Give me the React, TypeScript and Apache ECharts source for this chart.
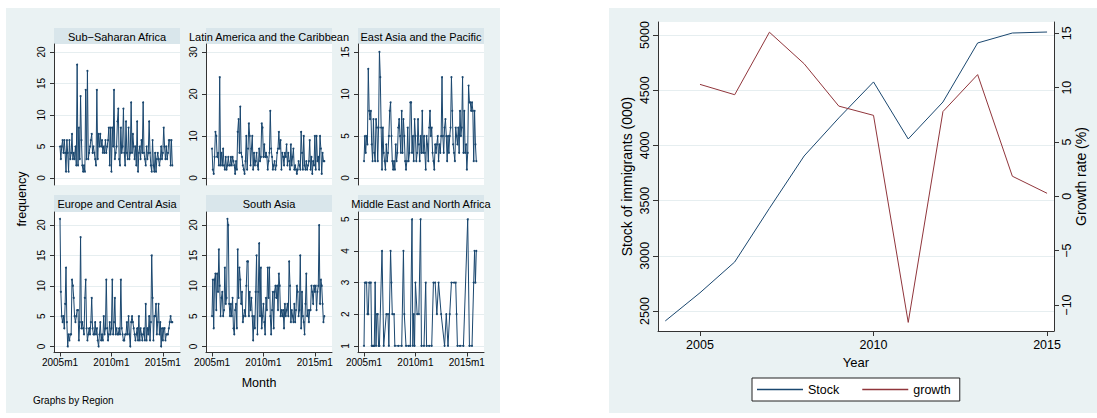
import React, { useEffect, useRef } from "react";
import * as echarts from "echarts";

// ---------- Left figure: monthly frequency by region (month index 0 = 2005m1) ----------
const regionNames = [
  "Sub\u2212Saharan Africa",
  "Latin America and the Caribbean",
  "East Asia and the Pacific",
  "Europe and Central Asia",
  "South Asia",
  "Middle East and North Africa",
];

const ssa = [
  5, 3, 5, 6, 4, 6, 4, 1, 6, 4,
  1, 6, 3, 4, 7, 3, 4, 3, 5, 2,
  18, 2, 8, 3, 13, 6, 2, 1, 2, 1,
  14, 3, 17, 3, 4, 5, 6, 7, 4, 5,
  4, 3, 2, 14, 3, 7, 5, 7, 5, 6,
  4, 5, 4, 6, 4, 5, 6, 8, 2, 8,
  1, 8, 5, 14, 3, 4, 5, 9, 11, 3,
  2, 8, 4, 5, 11, 4, 2, 9, 4, 3,
  8, 3, 4, 12, 4, 7, 5, 3, 5, 2,
  9, 1, 4, 5, 3, 6, 4, 12, 4, 3,
  2, 5, 3, 4, 9, 4, 2, 1, 6, 2,
  1, 4, 1, 3, 4, 3, 2, 3, 5, 3,
  4, 8, 5, 3, 5, 3, 4, 6, 6, 2, 6, 2,
];

const lac = [
  7, 2, 1, 5, 11, 10, 5, 6, 3, 24,
  3, 6, 3, 7, 3, 2, 5, 2, 3, 5,
  3, 3, 5, 3, 5, 4, 3, 1, 4, 2,
  11, 14, 6, 17, 6, 5, 3, 2, 1, 4,
  10, 2, 7, 13, 10, 3, 7, 10, 2, 6,
  3, 4, 6, 3, 2, 7, 4, 5, 13, 12,
  5, 8, 5, 6, 5, 2, 4, 6, 16, 7,
  5, 2, 3, 4, 2, 3, 6, 7, 11, 7,
  9, 2, 6, 5, 3, 6, 5, 8, 3, 6,
  4, 2, 8, 3, 5, 7, 2, 3, 2, 1,
  2, 4, 3, 2, 11, 6, 2, 10, 3, 2,
  4, 2, 3, 4, 9, 2, 5, 1, 4, 3,
  10, 2, 10, 4, 5, 2, 10, 7, 1, 6, 4, 4,
];

const eap = [
  2, 5, 3, 5, 4, 13, 8, 7, 8, 4,
  2, 7, 3, 2, 7, 6, 2, 6, 15, 12,
  6, 1, 6, 3, 2, 1, 4, 2, 3, 5,
  8, 9, 5, 2, 1, 2, 1, 4, 2, 3,
  6, 7, 5, 3, 8, 3, 7, 5, 2, 1,
  2, 6, 2, 3, 9, 9, 3, 5, 2, 7,
  5, 2, 3, 7, 4, 2, 5, 3, 8, 3,
  5, 3, 1, 5, 4, 2, 6, 8, 5, 6,
  3, 2, 1, 4, 3, 4, 5, 2, 4, 3,
  5, 12, 5, 3, 6, 7, 5, 2, 5, 3,
  5, 6, 12, 8, 4, 3, 2, 6, 5, 4,
  6, 3, 8, 5, 6, 12, 3, 8, 3, 4,
  1, 3, 11, 9, 9, 8, 9, 8, 2, 8, 4, 2,
];

const eca = [
  21, 9, 5, 4, 5, 3, 7, 13, 4, 0,
  2, 1, 2, 2, 11, 10, 8, 5, 4, 5,
  6, 6, 1, 4, 18, 3, 4, 3, 2, 8,
  11, 3, 1, 2, 3, 2, 4, 8, 3, 2,
  2, 4, 2, 3, 1, 0, 2, 4, 1, 2,
  1, 5, 2, 3, 11, 3, 1, 2, 4, 2,
  3, 11, 2, 4, 8, 2, 3, 2, 2, 3,
  2, 11, 3, 2, 1, 1, 2, 2, 4, 2,
  5, 2, 0, 4, 5, 4, 3, 2, 1, 2,
  3, 1, 5, 1, 3, 2, 1, 2, 3, 1,
  7, 1, 3, 2, 5, 1, 4, 15, 8, 1,
  5, 5, 7, 2, 4, 7, 2, 4, 0, 3,
  1, 3, 3, 1, 2, 2, 2, 3, 4, 5, 4, 4,
];

const sar = [
  5, 11, 3, 11, 12, 6, 12, 9, 16, 10,
  5, 8, 9, 5, 6, 13, 7, 8, 21, 20,
  7, 5, 7, 5, 8, 3, 2, 6, 7, 3,
  16, 8, 13, 11, 7, 9, 4, 5, 6, 5,
  10, 14, 14, 5, 9, 6, 8, 5, 1, 5,
  3, 9, 15, 2, 9, 17, 5, 13, 3, 5,
  7, 4, 2, 8, 6, 13, 8, 13, 5, 2,
  6, 9, 3, 9, 10, 8, 10, 6, 12, 10,
  5, 6, 5, 6, 3, 7, 5, 6, 7, 5,
  14, 10, 4, 6, 5, 4, 7, 4, 6, 10,
  9, 5, 6, 15, 3, 9, 5, 4, 2, 7,
  12, 5, 6, 4, 6, 6, 10, 9, 7, 10,
  9, 10, 6, 9, 10, 20, 7, 11, 10, 7, 4, 5,
];

// Middle East and North Africa has gaps: month index and value
const menaMonths = [
  0, 1, 2, 3, 4, 5, 6, 7, 8, 9, 10, 11, 12, 13, 14, 15, 16, 17, 18, 21,
  23, 26, 28, 29, 31, 32, 33, 35, 36, 40, 44, 46, 47, 49, 52, 54, 56, 57, 58, 59,
  60, 62, 64, 66, 67, 70, 72, 73, 76, 79, 81, 83, 85, 87, 90, 94, 96, 98, 100, 102,
  105, 107, 108, 109, 112, 116, 121, 123, 126, 128, 129, 130, 131,
];
const menaValues = [
  1, 3, 3, 3, 2, 2, 3, 3, 3, 1, 1, 1, 1, 3, 1, 2, 2, 1, 1, 4,
  1, 2, 2, 1, 4, 3, 2, 2, 1, 1, 1, 4, 2, 1, 1, 1, 5, 1, 2, 1,
  3, 2, 2, 5, 1, 1, 3, 1, 1, 1, 3, 3, 2, 3, 2, 1, 2, 1, 2, 3,
  3, 3, 2, 1, 1, 1, 5, 1, 1, 3, 4, 3, 4,
];

const panelYTicks = [
  [0, 5, 10, 15, 20],
  [0, 10, 20, 30],
  [0, 5, 10, 15],
  [0, 5, 10, 15, 20],
  [0, 5, 10, 15, 20],
  [1, 2, 3, 4, 5],
];
const monthTicks = [0, 60, 120];
const monthTickLabels = ["2005m1", "2010m1", "2015m1"];

// ---------- Right figure: stock and growth ----------
const years = [2004, 2005, 2006, 2007, 2008, 2009, 2010, 2011, 2012, 2013, 2014, 2015];
const stock = [2410, 2665, 2944, 3430, 3904, 4249, 4575, 4058, 4393, 4928, 5018, 5027];
const growth = [null, 10.3, 9.35, 15.1, 12.2, 8.3, 7.45, -11.6, 7.8, 11.2, 1.85, 0.28];
const yearTicks = [2005, 2010, 2015];
const stockTicks = [2500, 3000, 3500, 4000, 4500, 5000];
const growthTicks = [-10, -5, 0, 5, 10, 15];

// ---------- styles / layout ----------
const FONT = '"Liberation Sans", Arial, Helvetica, sans-serif';
const NAVY = "#1a476f";
const MAROON = "#90353b";
const BG = "#eaf2f3";
const STRIP = "#d9e6eb";
const GRIDLINE = "#e6eef0";
const AXIS = "#333333";

const panelLayout = [
  { left: 54, top: 44, width: 126, height: 141 },
  { left: 206, top: 44, width: 126, height: 141 },
  { left: 358, top: 44, width: 126, height: 141 },
  { left: 54, top: 212, width: 126, height: 140.5 },
  { left: 206, top: 212, width: 126, height: 140.5 },
  { left: 358, top: 212, width: 126, height: 140.5 },
];
const panelYRange = [
  [-1.11, 21.27],
  [-1.67, 31.9],
  [-0.83, 15.95],
  [-0.99, 22.15],
  [-0.99, 22.15],
  [0.79, 5.23],
];
const monthRange = [-7, 140];

const plainFmt = (v: number) => String(v).replace("-", "\u2212");

function buildOption() {
  const seriesData: number[][][] = [
    ssa.map((v, i) => [i, v]),
    lac.map((v, i) => [i, v]),
    eap.map((v, i) => [i, v]),
    eca.map((v, i) => [i, v]),
    sar.map((v, i) => [i, v]),
    menaMonths.map((m, i) => [m, menaValues[i]]),
  ];

  const grids: any[] = panelLayout.map((g) => ({
    ...g,
    show: true,
    backgroundColor: "#ffffff",
    borderWidth: 0,
    containLabel: false,
    outerBoundsMode: "none",
  }));
  grids.push({
    left: 658,
    top: 22,
    width: 396,
    height: 309,
    show: true,
    backgroundColor: "#ffffff",
    borderWidth: 0,
    containLabel: false,
    outerBoundsMode: "none",
  });

  const xAxes: any[] = panelLayout.map((_, i) => {
    const bottom = i >= 3;
    return {
      type: "value",
      gridIndex: i,
      min: monthRange[0],
      max: monthRange[1],
      show: bottom,
      axisLine: { show: true, onZero: false, lineStyle: { color: AXIS, width: 1 } },
      axisTick: { show: true, length: 4, customValues: monthTicks, lineStyle: { color: AXIS } },
      axisLabel: {
        customValues: monthTicks,
        margin: 5,
        fontSize: 10,
        color: "#000",
        fontFamily: FONT,
        formatter: (v: number) => monthTickLabels[monthTicks.indexOf(v)] ?? "",
      },
      splitLine: { show: false },
    };
  });
  xAxes.push({
    type: "value",
    gridIndex: 6,
    min: 2003.79,
    max: 2015.2,
    name: "Year",
    nameLocation: "middle",
    nameGap: 22,
    nameTextStyle: { fontSize: 13, color: "#000", fontFamily: FONT },
    axisLine: { show: true, onZero: false, lineStyle: { color: AXIS, width: 1 } },
    axisTick: { show: true, length: 5, customValues: yearTicks, lineStyle: { color: AXIS } },
    axisLabel: {
      customValues: yearTicks,
      margin: 7,
      fontSize: 12.5,
      color: "#000",
      fontFamily: FONT,
      formatter: plainFmt,
    },
    splitLine: { show: false },
  });

  const yAxes: any[] = panelLayout.map((_, i) => ({
    type: "value",
    gridIndex: i,
    min: panelYRange[i][0],
    max: panelYRange[i][1],
    axisLine: { show: true, onZero: false, lineStyle: { color: AXIS, width: 1 } },
    axisTick: { show: true, length: 4, customValues: panelYTicks[i], lineStyle: { color: AXIS } },
    axisLabel: {
      customValues: panelYTicks[i],
      rotate: 90,
      margin: 8,
      fontSize: 10,
      color: "#000",
      fontFamily: FONT,
      formatter: plainFmt,
    },
    splitLine: { show: true, lineStyle: { color: GRIDLINE, width: 1 } },
  }));
  yAxes.push({
    type: "value",
    gridIndex: 6,
    position: "left",
    min: 2318.8,
    max: 5117.8,
    name: "Stock of immigrants (000)",
    nameLocation: "middle",
    nameRotate: 90,
    nameGap: 24,
    nameTextStyle: { fontSize: 14, color: "#000", fontFamily: FONT },
    axisLine: { show: true, onZero: false, lineStyle: { color: AXIS, width: 1 } },
    axisTick: { show: true, length: 5, customValues: stockTicks, lineStyle: { color: AXIS } },
    axisLabel: {
      customValues: stockTicks,
      rotate: 90,
      margin: 7,
      fontSize: 12.5,
      color: "#000",
      fontFamily: FONT,
      formatter: plainFmt,
    },
    splitLine: { show: true, lineStyle: { color: GRIDLINE, width: 1 } },
  });
  yAxes.push({
    type: "value",
    gridIndex: 6,
    position: "right",
    min: -12.39,
    max: 16.04,
    name: "Growth rate (%)",
    nameLocation: "middle",
    nameRotate: 90,
    nameGap: 19,
    nameTextStyle: { fontSize: 14, color: "#000", fontFamily: FONT },
    axisLine: { show: true, onZero: false, lineStyle: { color: AXIS, width: 1 } },
    axisTick: { show: true, length: 5, customValues: growthTicks, lineStyle: { color: AXIS } },
    axisLabel: {
      customValues: growthTicks,
      rotate: 90,
      margin: 6,
      fontSize: 12.5,
      color: "#000",
      fontFamily: FONT,
      formatter: plainFmt,
    },
    splitLine: { show: false },
  });

  const series: any[] = seriesData.map((d, i) => ({
    type: "line",
    name: regionNames[i],
    xAxisIndex: i,
    yAxisIndex: i,
    data: d,
    showSymbol: true,
    symbol: "circle",
    symbolSize: 2,
    itemStyle: { color: NAVY },
    lineStyle: { color: NAVY, width: 1 },
    emphasis: { disabled: true },
    silent: true,
  }));
  series.push({
    type: "line",
    name: "Stock",
    xAxisIndex: 6,
    yAxisIndex: 6,
    data: years.map((y, i) => [y, stock[i]]),
    showSymbol: false,
    itemStyle: { color: NAVY },
    lineStyle: { color: NAVY, width: 1 },
    silent: true,
  });
  series.push({
    type: "line",
    name: "growth",
    xAxisIndex: 6,
    yAxisIndex: 7,
    data: years.map((y, i) => [y, growth[i]]),
    showSymbol: false,
    connectNulls: false,
    itemStyle: { color: MAROON },
    lineStyle: { color: MAROON, width: 1 },
    silent: true,
  });

  const graphic: any[] = [
    { type: "rect", z: -10, shape: { x: 6, y: 8, width: 494, height: 405 }, style: { fill: BG } },
    { type: "rect", z: -10, shape: { x: 609, y: 8, width: 488, height: 405 }, style: { fill: BG } },
  ];
  panelLayout.forEach((g, i) => {
    const top = i < 3 ? 28 : 195;
    const h = g.top - top;
    graphic.push({ type: "rect", shape: { x: g.left, y: top, width: g.width, height: h }, style: { fill: STRIP } });
    graphic.push({
      type: "text",
      x: g.left + g.width / 2,
      y: top + h / 2 + 0.5,
      style: {
        text: regionNames[i],
        fill: "#000",
        font: `11px ${FONT}`,
        align: "center",
        verticalAlign: "middle",
      },
    });
  });
  graphic.push({
    type: "text",
    x: 22,
    y: 199,
    rotation: Math.PI / 2,
    style: { text: "frequency", fill: "#000", font: `12.5px ${FONT}`, align: "center", verticalAlign: "middle" },
  });
  graphic.push({
    type: "text",
    x: 259,
    y: 383,
    style: { text: "Month", fill: "#000", font: `12.5px ${FONT}`, align: "center", verticalAlign: "middle" },
  });
  graphic.push({
    type: "text",
    x: 33,
    y: 400,
    style: { text: "Graphs by Region", fill: "#000", font: `10px ${FONT}`, align: "left", verticalAlign: "middle" },
  });

  return {
    animation: false,
    backgroundColor: "#ffffff",
    textStyle: { fontFamily: FONT },
    tooltip: { show: false },
    legend: {
      data: ["Stock", "growth"],
      left: 752,
      top: 378,
      orient: "horizontal",
      icon: "rect",
      itemWidth: 46,
      itemHeight: 1.3,
      itemGap: 23,
      padding: [5, 9, 5, 5],
      backgroundColor: "#ffffff",
      borderColor: "#222222",
      borderWidth: 1,
      borderRadius: 0,
      selectedMode: false,
      textStyle: { fontSize: 12.5, color: "#000", fontFamily: FONT },
    },
    grid: grids,
    xAxis: xAxes,
    yAxis: yAxes,
    series,
    graphic,
  };
}

export default function App() {
  const ref = useRef<HTMLDivElement>(null);
  useEffect(() => {
    if (!ref.current) return;
    const chart = echarts.init(ref.current, null, { renderer: "svg" });
    chart.setOption(buildOption() as any);
    return () => chart.dispose();
  }, []);
  return (
    <div
      ref={ref}
      style={{ position: "absolute", left: 0, top: 0, width: 1097, height: 418 }}
    />
  );
}
